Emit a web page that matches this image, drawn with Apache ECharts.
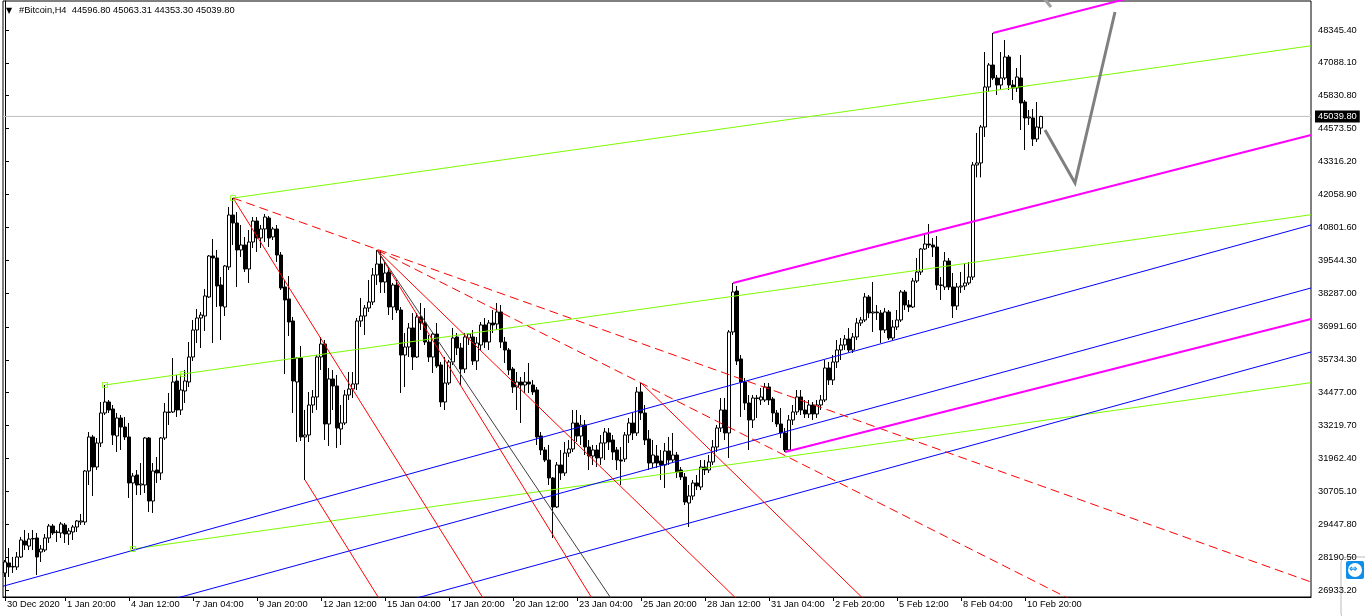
<!DOCTYPE html>
<html><head><meta charset="utf-8">
<script src="https://cdn.jsdelivr.net/npm/echarts@6/dist/echarts.min.js"></script>
<style>html,body{margin:0;padding:0;background:#fff}#c{width:1365px;height:616px}</style>
</head><body><div id="c"></div>
<script>
// ---- candle data (H4 bars, #Bitcoin) ----
const opens = [
27581,27964,27811,27811,28193,28805,28613,28881,28920,28384,
28461,28920,29378,29149,29111,29417,29072,29149,29340,29531,
29531,31481,32782,31634,32552,33700,34120,33853,32820,33508,
33164,32782,31023,31329,30946,30946,32744,30334,31520,31405,
32744,33738,33738,34923,33814,34541,34885,35841,36873,37332,
37409,38135,39703,39627,38595,37753,39283,41271,40965,39933,
40124,39206,40238,41041,40391,40736,41156,40430,40736,39741,
38518,38059,37218,34885,35803,32782,32858,34005,34312,35841,
36338,33279,35000,34732,33088,33317,34388,34617,34809,37218,
37409,37715,37944,38977,39397,38709,39091,37753,38595,37638,
35917,36223,36950,35841,37371,37141,36414,35841,36720,35535,
34120,34847,35650,36606,36185,35382,36567,36606,35688,36300,
37065,36414,37141,37103,37562,36414,36109,35382,34694,34885,
34770,34885,34770,34579,32820,32285,31902,31214,30105,31711,
31405,32170,32323,33317,32820,33241,32399,32055,32285,31979,
32552,32935,32667,32285,31902,31940,32858,33317,32935,34503,
33700,32705,31787,32055,31864,31711,32246,31902,32093,31520,
31252,30258,30525,31023,30870,31634,31520,31826,32399,33126,
33814,32935,36797,38365,35765,34885,34082,33432,34273,34197,
34197,34694,34235,33700,33279,32935,32285,33432,33738,34312,
33814,33661,34005,33661,34005,34197,35420,34962,35650,36109,
36300,36529,36109,36606,37141,37256,38135,37523,37562,37523,
36873,37562,36567,36988,37256,38327,37829,37753,38747,39091,
39971,40162,40124,40047,38595,38518,39512,38518,37791,38518,
38556,38671,38900,43184,43261,44636,46166,47007,46510,46242,
46510,47313,46242,46128,46510,45592,44980,44980,44177,44596.80];
const closes = [
28002,27811,27830,28193,28843,28652,28881,28900,28193,28499,
28920,29378,29111,29130,29455,29072,29187,29340,29570,29570,
31481,32782,31634,32552,33700,34120,33814,32858,33508,33164,
32782,31023,31290,30946,30984,32744,30334,31481,31405,32744,
33738,33720,34885,33814,34579,34923,35841,36873,37332,37447,
38174,39703,39627,38556,37791,39321,41271,40965,39933,40124,
39206,40238,41041,40391,40736,41194,40391,40736,39741,38480,
38021,37179,34923,35803,32782,32858,34005,34312,35841,36338,
33279,35000,34732,33126,33317,34388,34617,34809,37218,37409,
37715,37944,38977,39397,38709,39053,37753,38595,37638,35917,
36223,36950,35841,37371,37141,36414,35841,36720,35497,34120,
34847,35650,36567,36185,35382,36606,36720,35688,36376,37065,
36414,37141,37065,37562,36414,36109,35344,34694,34885,34770,
34885,34809,34503,32782,32285,31902,31214,30105,31711,31405,
32170,32323,33317,32820,33241,32399,32055,32285,31979,32552,
32973,32591,32208,31902,31864,32858,33317,32935,34503,33700,
32667,31787,32093,31787,31711,32246,31902,32093,31443,31252,
30296,30525,31023,30908,31634,31520,31826,32399,33126,33814,
32935,36797,38327,35688,34885,34082,33432,34273,34254,34312,
34694,34197,33700,33279,32935,32285,33432,33738,34312,33814,
33661,34005,33661,34005,34197,35420,34962,35650,36109,36300,
36529,36109,36606,37141,37256,38135,37523,37562,37530,36873,
37562,36567,36988,37256,38327,37829,37753,38747,39091,39971,
40162,40124,40047,38595,38580,39512,38518,37791,38518,38556,
38671,38900,43184,43261,44636,46166,47007,46510,46242,46510,
47313,46242,46128,46548,45554,44980,45018,44177,44636,45039.80];
const highs = [
28078,28537,28193,28384,28958,29225,29111,29225,29111,28652,
29072,29455,29455,29225,29531,29493,29302,29417,29608,29837,
31520,32973,32858,32744,34120,34770,34197,34005,33700,33623,
33547,33317,31405,31520,31787,32782,32782,31787,32017,32782,
34082,34465,35803,35153,35153,35344,36414,37256,37676,37562,
38441,39741,40353,39933,38900,39359,41577,41921,41386,40889,
40430,40697,41194,41194,40889,41309,41233,40812,40889,39856,
38786,38938,37371,35841,36261,33814,34503,34579,35917,36606,
36491,35420,35344,35153,34005,34579,35268,35268,37332,38097,
37829,38786,39244,39933,39933,39474,39283,38671,38786,37753,
36758,37141,37523,37523,37906,37715,36682,36797,37141,35650,
35841,35726,36950,36758,36376,36758,36758,36873,36606,37179,
37332,37256,37638,37906,37829,36606,36185,35459,35268,35076,
35268,35612,34962,34694,32973,32399,32476,31252,31826,32285,
32591,32667,33814,33814,33623,33432,32667,32476,32476,32858,
33126,33126,32858,32399,32399,32973,33508,33700,34694,34847,
34005,33049,32667,32476,32285,32552,32782,32935,32208,31634,
31405,30946,31137,31329,31902,31902,32093,32667,33241,34273,
34273,36873,38671,38556,35917,35038,34388,34388,34388,34656,
34847,34847,34312,33814,33891,33126,33623,34005,34579,34579,
34197,34197,34120,34197,34388,35726,35650,35917,36491,36567,
36682,36950,36758,37332,37371,38289,38212,38709,37829,37638,
37715,37638,37256,37638,38403,38403,38021,38862,39627,40009,
40583,40927,40391,40468,38900,39856,39627,39053,38671,39091,
39436,39474,43299,44407,44713,47504,47083,48231,46625,47504,
47963,47389,46434,46892,47389,45669,45286,45325,45592,45063.31];
const lows = [
27428,27428,27581,27696,28155,28461,28461,28461,27505,28002,
28384,28728,29034,28766,28920,28728,28652,28843,29149,29417,
29417,30946,30525,31520,32399,33623,33700,32476,32208,32285,
32667,30449,28499,30564,30564,30640,29914,29876,31023,31137,
32667,33241,33700,33547,33623,34082,34694,35688,36376,36185,
36835,38097,36376,37753,36491,37409,39168,40124,38518,39665,
39091,38671,40009,39856,40009,40238,40047,40315,39474,38403,
35191,36644,33700,32591,32629,31137,32591,33700,33814,35344,
32667,32438,33814,32361,32476,33241,34197,34273,34579,36988,
36682,37562,37829,38595,38289,38289,37447,37256,37523,34465,
34694,35841,35344,35803,36873,36300,35650,35229,35420,33929,
33814,34770,35535,35917,34770,35229,36300,35535,35344,36109,
36185,36109,36758,36873,36185,35612,35153,34465,33814,33317,
34465,34465,34388,32476,32093,31826,30946,28920,30067,31137,
31290,32017,32208,32591,32476,32093,31520,31711,31634,31711,
31902,32285,31902,31520,30946,31826,32552,32667,32820,33432,
32476,31520,31596,31596,31137,30831,31711,31826,31214,31137,
30181,29340,30373,30755,30755,31329,31405,31711,32208,32973,
32667,31979,36682,35535,33547,33814,32285,33126,33508,34005,
34120,34005,33355,33164,32744,32208,32208,33241,33623,33623,
33508,33508,33432,33508,33814,34120,34770,34770,35420,35726,
36109,36032,35994,36491,37026,37179,37332,36797,37256,36376,
36758,36491,36491,36873,37179,37638,37562,37715,38671,38977,
39933,40009,39665,38403,38021,38403,38403,37332,37638,38289,
38403,38595,38786,42709,42709,44254,45975,46434,45860,46051,
46434,46051,45669,45975,44521,43757,44713,43910,44062,44353.30];

// ---- axis labels ----
const priceTicks = [26933.20,28190.50,29447.80,30705.10,31962.40,33219.70,34477.00,35734.30,36991.60,38287.00,39544.30,40801.60,42058.90,43316.20,44573.50,45830.80,47088.10,48345.40];
const timeTickBars = [0,15,31,47,63,79,95,111,127,143,159,175,191,207,223,239,255];
const timeTickLabels = ['30 Dec 2020','1 Jan 20:00','4 Jan 12:00','7 Jan 04:00','9 Jan 20:00','12 Jan 12:00','15 Jan 04:00','17 Jan 20:00','20 Jan 12:00','23 Jan 04:00','25 Jan 20:00','28 Jan 12:00','31 Jan 04:00','2 Feb 20:00','5 Feb 12:00','8 Feb 04:00','10 Feb 20:00'];
const titleText = '#Bitcoin,H4  44596.80 45063.31 44353.30 45039.80';
const lastPrice = 45039.80;

// ---- drawn objects, anchors as [bar index, price] ----
const greenLines = [[[57,41921],[326.5,47742]], [[25,34770],[326.5,41282]], [[32,28499],[326.5,34860]]];
const greenAnchors = [[57,41921],[25,34770],[44.5,35190],[32,28499]];
const blueLines = [[[-0.5,27074],[326.5,40889]], [[30,26080],[326.5,38480]], [[90,26080],[326.5,36032]]];
const magentaLines = [[[182,38671],[326.5,44330]], [[247,48231],[290,49915]], [[195,32208],[326.5,37294]]];
const redDashed = [[[57,41921],[326.5,27237]], [[93,39933],[270,26293]]];
const redSolid = [[[57,41921],[121,26260]], [[93,39933],[150,25808]], [[93,39933],[185,26280]], [[159,34847],[215,26537]], [[75,31137],[95,26243]]];
const blackThin = [[[93,39933],[152,26500]]];
const grayArrow = [[260,44521],[267.5,42495],[277.5,49034]];
const grayStub = [[259.5,49600],[261.5,49225]];

const SLOTS = 327;
const cats = Array.from({length: SLOTS}, (_, i) => String(i));
const labelMap = {};
timeTickBars.forEach((b, i) => labelMap[b] = timeTickLabels[i]);
const isTick = (i) => labelMap[i] !== undefined;

const FONT = 'Liberation Sans';
const FS = 9.3;
const series = [];
series.push({
  type: 'candlestick', xAxisIndex: 0, yAxisIndex: 0, barWidth: 3,
  data: opens.map((o, i) => [o, closes[i], lows[i], highs[i]]),
  itemStyle: {color: '#ffffff', color0: '#000000', borderColor: '#000000', borderColor0: '#000000', borderColorDoji: '#000000', borderWidth: 1},
  silent: true, animation: false, z: 3
});
function addLines(list, color, width, type, z) {
  list.forEach(seg => series.push({
    type: 'line', xAxisIndex: 1, yAxisIndex: 0, data: seg, symbol: 'none', silent: true, animation: false,
    lineStyle: {color, width, type}, z: z || 4, clip: true
  }));
}
addLines([[[-0.5,lastPrice],[326.5,lastPrice]]], '#C0C0C0', 1, 'solid', 2);
addLines(greenLines, '#7CFC00', 1, 'solid');
addLines(blueLines, '#0000FF', 1, 'solid');
addLines(redDashed, '#FF0000', 1, [9,5]);
addLines(redSolid, '#FF0000', 1, 'solid');
addLines(blackThin, '#404040', 1, 'solid');
addLines(magentaLines, '#FF00FF', 2, 'solid', 5);
addLines([grayStub], '#A0A0A0', 3, 'solid', 5);
series.push({
  type: 'scatter', xAxisIndex: 1, yAxisIndex: 0, data: greenAnchors, symbol: 'rect', symbolSize: 5,
  itemStyle: {color: 'rgba(0,0,0,0)', borderColor: '#7CFC00', borderWidth: 1}, silent: true, animation: false, z: 6
});
series.push({
  type: 'lines', coordinateSystem: 'cartesian2d', xAxisIndex: 1, yAxisIndex: 0, polyline: true,
  symbol: ['none', 'arrow'], symbolSize: 12,
  lineStyle: {color: '#808080', width: 3, opacity: 1}, data: [{coords: grayArrow}], silent: true, animation: false, z: 6
});

const chart = echarts.init(document.getElementById('c'), null, {renderer: 'canvas'});
chart.setOption({
  backgroundColor: '#ffffff',
  animation: false,
  grid: {left: 3, right: 54, top: 1, bottom: 19, show: true, borderColor: '#000', borderWidth: 1, backgroundColor: '#fff'},
  xAxis: [{
    type: 'category', data: cats, boundaryGap: true,
    axisLine: {show: true, lineStyle: {color: '#000'}},
    axisTick: {show: true, alignWithLabel: true, interval: (i) => isTick(i), length: 4, lineStyle: {color: '#000'}},
    axisLabel: {interval: (i) => isTick(i), formatter: (v, i) => labelMap[i] || '', align: 'left', margin: 3,
      showMinLabel: true, hideOverlap: false,
      padding: [0, 0, 0, 2], fontSize: FS, fontFamily: FONT, color: '#000'},
    splitLine: {show: false}
  }, {
    type: 'value', min: -0.5, max: 326.5, show: false
  }],
  yAxis: [{
    type: 'value', position: 'right', min: 26663, max: 49454, scale: true,
    axisLine: {show: true, lineStyle: {color: '#000'}},
    axisTick: {show: true, customValues: priceTicks, length: 4, lineStyle: {color: '#000'}},
    axisLabel: {customValues: priceTicks, formatter: (v) => v.toFixed(2), fontSize: FS, fontFamily: FONT, color: '#000', margin: 7},
    splitLine: {show: false}
  }, {
    type: 'value', position: 'right', min: 26663, max: 49454, scale: true,
    axisLine: {show: false}, axisTick: {show: false}, splitLine: {show: false},
    axisLabel: {customValues: [lastPrice], formatter: (v) => v.toFixed(2), fontSize: FS, fontFamily: FONT,
      color: '#fff', backgroundColor: '#000', padding: [2, 3, 1, 3], margin: 4}
  }],
  series,
  graphic: [
    {type: 'text', left: 6, top: 7, style: {text: '\u25BC', font: '8px "DejaVu Sans"', fill: '#000'}},
    {type: 'text', left: 19, top: 6, style: {text: titleText, font: FS + 'px "' + FONT + '"', fill: '#000'}},
    {type: 'rect', shape: {x: 1341, y: 557, width: 30, height: 62, r: 6}, style: {fill: '#fff', stroke: '#bbb', lineWidth: 1}},
    {type: 'rect', shape: {x: 1346, y: 561, width: 18, height: 18, r: 2}, style: {fill: '#0E8EE9'}},
    {type: 'circle', shape: {cx: 1355, cy: 570, r: 7}, style: {fill: '#fff'}},
    {type: 'text', x: 1349, y: 564, style: {text: '\u21D4', font: 'bold 10px "DejaVu Sans"', fill: '#0E8EE9'}}
  ]
});
</script></body></html>
